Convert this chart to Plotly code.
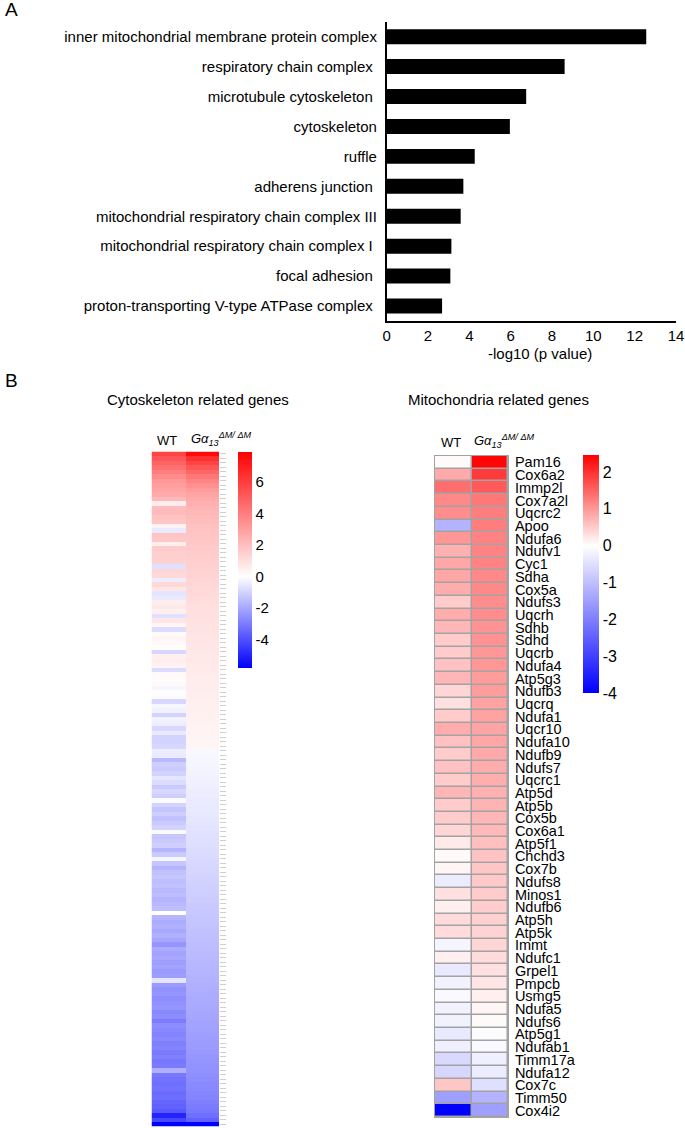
import plotly.graph_objects as go

W, H = 685, 1128


def fx(px):
    return px / W


def fy(py):
    return 1 - py / H


FONT = "Liberation Sans, Arial, Helvetica, sans-serif"

# ---------------- Panel A data ----------------
go_terms = [
    "inner mitochondrial membrane protein complex",
    "respiratory chain complex\u00a0",
    "microtubule cytoskeleton\u00a0",
    "cytoskeleton",
    "ruffle",
    "adherens junction\u00a0",
    "mitochondrial respiratory chain complex III",
    "mitochondrial respiratory chain complex I\u00a0",
    "focal adhesion\u00a0",
    "proton-transporting V-type ATPase complex\u00a0",
]
go_values = [12.56, 8.61, 6.75, 5.96, 4.26, 3.71, 3.58, 3.13, 3.08, 2.68]
bar_ticks = [0, 2, 4, 6, 8, 10, 12, 14]

# ---------------- Panel B left: cytoskeleton genes (rows top->bottom) ----------------
cyto_wt = [
    5.8, 5.2, 4.8, 4.4, 4.0, 3.6, 3.2, 3.0, 2.8, 2.6,
    2.2, 0.6, 2.0, 2.1, 1.9, 1.8, 0.4, -0.5, 1.8, 1.7,
    0.5, 1.6, 1.5, 1.5, 1.4, -0.7, 1.3, 1.2, -0.4, 1.2,
    0.8, -0.6, -0.5, 0.6, 0.7, 0.5, -0.7, 0.8, 0.3, -0.8,
    0.2, 0.3, 0.2, 0.1, -0.9, 0.5, 0.6, 0.4, -0.8, 0.2,
    0.1, 0.2, -0.2, 0.1, -0.1, -0.9, -0.2, -0.3, -1.0, -0.3,
    -0.4, -0.9, -0.5, -1.0, -1.0, -0.9, -0.4, -0.5, -1.6, -1.1,
    -1.2, -1.0, -0.6, -0.8, -1.2, -0.9, -1.1, -0.1, -1.0, -1.3,
    -1.1, -1.4, -1.2, -1.0, -0.1, -1.3, -1.2, -1.1, -1.7, -1.2,
    -0.2, -1.3, -1.7, -1.4, -1.3, -1.5, -1.4, -1.6, -1.5, -1.7,
    -1.6, -1.5, 0.0, -1.7, -1.9, -1.8, -2.0, -1.8, -2.0, -2.4,
    -1.9, -2.1, -2.0, -2.2, -2.1, -2.3, -2.2, -0.6, -2.3, -2.5,
    -2.4, -2.6, -2.5, -2.4, -2.7, -2.6, -3.0, -2.6, -2.7, -2.8,
    -2.7, -2.9, -2.8, -3.0, -2.9, -3.1, -3.0, -1.8, -3.1, -3.2,
    -3.3, -3.2, -3.4, -3.3, -3.5, -3.6, -3.8, -5.0, -4.2, -5.8,
]
cyto_ko = [
    7.6, 6.4, 5.8, 5.2, 4.7, 4.2, 3.8, 3.4, 3.1, 2.8,
    2.6, 2.45, 2.3, 2.2, 2.1, 2.0, 1.9, 1.85, 1.8, 1.75,
    1.7, 1.65, 1.6, 1.55, 1.5, 1.45, 1.4, 1.35, 1.3, 1.25,
    1.2, 1.15, 1.1, 1.05, 1.0, 0.98, 0.95, 0.92, 0.9, 0.88,
    0.85, 0.82, 0.8, 0.78, 0.75, 0.72, 0.7, 0.68, 0.65, 0.62,
    0.6, 0.58, 0.56, 0.54, 0.52, 0.5, 0.48, 0.46, 0.44, 0.42,
    0.4, 0.38, 0.36, 0.34, 0.32, 0.3,
    -0.15, -0.18, -0.2, -0.22, -0.25, -0.28, -0.3, -0.33, -0.36, -0.4, -0.42, -0.45, -0.48, -0.5,
    -0.53, -0.56, -0.6, -0.63, -0.66, -0.7, -0.73, -0.76, -0.8, -0.83,
    -0.86, -0.9, -0.93, -0.96, -1.0, -1.03, -1.06, -1.1, -1.13, -1.16,
    -1.2, -1.23, -1.26, -1.3, -1.33, -1.36, -1.4, -1.43, -1.46, -1.5,
    -1.53, -1.56, -1.6, -1.63, -1.66, -1.7, -1.73, -1.76, -1.8, -1.83,
    -1.86, -1.9, -1.93, -1.96, -2.0, -2.03, -2.06, -2.1, -2.14, -2.18,
    -2.22, -2.26, -2.3, -2.34, -2.38, -2.42, -2.46, -2.5, -2.55, -2.6,
    -2.65, -2.7, -2.75, -2.8, -2.9, -3.0, -3.1, -3.3, -3.6, -5.8,
]
cyto_rows = list(range(len(cyto_wt)))
cyto_ticks = [-4, -2, 0, 2, 4, 6]
cyto_tick_text = ["-4", "-2", "0", "2", "4", "6"]
cyto_zmin, cyto_zmax = -5.8, 7.9

# ---------------- Panel B right: mitochondria genes ----------------
mito_genes = [
    "Pam16", "Cox6a2", "Immp2l", "Cox7a2l", "Uqcrc2", "Apoo", "Ndufa6", "Ndufv1",
    "Cyc1", "Sdha", "Cox5a", "Ndufs3", "Uqcrh", "Sdhb", "Sdhd", "Uqcrb", "Ndufa4",
    "Atp5g3", "Ndufb3", "Uqcrq", "Ndufa1", "Uqcr10", "Ndufa10", "Ndufb9", "Ndufs7",
    "Uqcrc1", "Atp5d", "Atp5b", "Cox5b", "Cox6a1", "Atp5f1", "Chchd3", "Cox7b",
    "Ndufs8", "Minos1", "Ndufb6", "Atp5h", "Atp5k", "Immt", "Ndufc1", "Grpel1",
    "Pmpcb", "Usmg5", "Ndufa5", "Ndufs6", "Atp5g1", "Ndufab1", "Timm17a",
    "Ndufa12", "Cox7c", "Timm50", "Cox4i2",
]
mito_wt = [
    0.05, 0.82, 1.4, 1.15, 1.1, -1.2, 1.0, 0.75, 0.85, 0.85,
    0.8, 0.5, 0.8, 0.7, 0.5, 0.5, 0.6, 0.7, 0.4, 0.3,
    0.5, 0.8, 0.6, 0.5, 0.6, 0.5, 0.7, 0.5, 0.5, 0.4,
    0.2, 0.05, 0.1, -0.3, 0.3, 0.15, 0.35, 0.35, -0.15, 0.15,
    -0.35, -0.2, -0.1, -0.2, -0.2, -0.35, -0.25, -0.6, -0.65, 0.55,
    -1.5, -4.0,
]
mito_ko = [
    2.4, 1.9, 1.6, 1.3, 1.25, 1.25, 1.2, 1.2, 1.2, 1.15,
    1.15, 1.1, 1.1, 1.05, 1.05, 1.0, 1.0, 0.95, 0.95, 0.9,
    0.9, 0.88, 0.85, 0.82, 0.8, 0.78, 0.75, 0.72, 0.7, 0.68,
    0.62, 0.58, 0.55, 0.52, 0.5, 0.48, 0.45, 0.42, 0.4, 0.35,
    0.3, 0.25, 0.15, 0.1, 0.05, -0.05, -0.1, -0.25, -0.3, -0.5,
    -1.2, -1.5,
]
mito_ticks = [-4, -3, -2, -1, 0, 1, 2]
mito_tick_text = ["-4", "-3", "-2", "-1", "0", "1", "2"]
mito_zmin, mito_zmax = -4.0, 2.46


def bwr(zmin, zmax):
    mid = (0 - zmin) / (zmax - zmin)
    return [[0.0, "#0000ff"], [mid, "#ffffff"], [1.0, "#ff0000"]]


fig = go.Figure()

# Panel A bars
fig.add_trace(go.Bar(
    x=go_values, y=go_terms, orientation="h", width=0.5,
    marker=dict(color="black", line=dict(width=0)),
    xaxis="x", yaxis="y", showlegend=False, hoverinfo="x+y",
))

# Panel B left heatmap
fig.add_trace(go.Heatmap(
    z=[[w, k] for w, k in zip(cyto_wt, cyto_ko)],
    x=[0, 1], y=cyto_rows,
    colorscale=bwr(cyto_zmin, cyto_zmax), zmin=cyto_zmin, zmax=cyto_zmax,
    xaxis="x2", yaxis="y2",
    colorbar=dict(
        x=fx(238), xanchor="left", y=fy(452), yanchor="top",
        len=216, lenmode="pixels", thickness=14, thicknessmode="pixels",
        xpad=0, ypad=0, outlinewidth=0, ticks="",
        tickmode="array", tickvals=cyto_ticks, ticktext=cyto_tick_text,
        tickfont=dict(size=15, family=FONT, color="black"),
    ),
))

# Panel B right heatmap
fig.add_trace(go.Heatmap(
    z=[[w, k] for w, k in zip(mito_wt, mito_ko)],
    x=[0, 1], y=mito_genes, xgap=1.5, ygap=1.5,
    colorscale=bwr(mito_zmin, mito_zmax), zmin=mito_zmin, zmax=mito_zmax,
    xaxis="x3", yaxis="y3",
    colorbar=dict(
        x=fx(583), xanchor="left", y=fy(455), yanchor="top",
        len=238, lenmode="pixels", thickness=16, thicknessmode="pixels",
        xpad=0, ypad=0, outlinewidth=0, ticks="",
        tickmode="array", tickvals=mito_ticks, ticktext=mito_tick_text,
        tickfont=dict(size=16, family=FONT, color="black"),
    ),
))

hidden = dict(showgrid=False, zeroline=False, showline=False, ticks="",
              showticklabels=False, automargin=False)

fig.update_layout(
    width=W, height=H,
    margin=dict(l=0, r=0, t=0, b=0, pad=0, autoexpand=False),
    paper_bgcolor="white", plot_bgcolor="rgba(0,0,0,0)",
    font=dict(family=FONT, color="black"),
    showlegend=False,
    xaxis=dict(
        domain=[fx(386.7), fx(676)], range=[0, 14], anchor="y", automargin=False,
        showline=True, linecolor="black", linewidth=1.5,
        ticks="", tickmode="array", tickvals=bar_ticks,
        tickfont=dict(size=15, family=FONT, color="black"),
        showgrid=False, zeroline=False,
    ),
    yaxis=dict(
        domain=[fy(321), fy(21.7)], anchor="x", automargin=False,
        autorange="reversed", type="category",
        showline=True, linecolor="black", linewidth=1.5,
        ticks="outside", ticklen=5, tickcolor="rgba(0,0,0,0)",
        tickfont=dict(size=15, family=FONT, color="black"),
        showgrid=False, zeroline=False,
    ),
    xaxis2=dict(domain=[fx(151.5), fx(219)], range=[-0.5, 1.5], anchor="y2", **hidden),
    yaxis2=dict(
        domain=[fy(1126.5), fy(451.5)], anchor="x2", automargin=False,
        range=[len(cyto_rows) - 0.5, -0.5], side="right",
        tickmode="array", tickvals=cyto_rows, ticks="outside", ticklen=6,
        tickcolor="#cfcfcf", tickwidth=1, showticklabels=False,
        showgrid=False, zeroline=False, showline=False,
    ),
    xaxis3=dict(domain=[fx(435), fx(508)], range=[-0.5, 1.5], anchor="y3", **hidden),
    yaxis3=dict(
        domain=[fy(1117), fy(456)], anchor="x3", automargin=False,
        type="category", autorange="reversed", side="right",
        tickmode="array", tickvals=mito_genes, ticktext=mito_genes,
        ticks="outside", ticklen=3, tickcolor="rgba(0,0,0,0)",
        tickfont=dict(size=14.5, family=FONT, color="black"),
        showgrid=False, zeroline=False, showline=False,
    ),
)

# grey cell borders behind the mitochondria heatmap
fig.add_shape(
    type="rect", xref="paper", yref="paper", layer="below",
    x0=fx(434), x1=fx(509), y0=fy(1118), y1=fy(455),
    fillcolor="#a3a3a3", line=dict(width=0),
)

G_LABEL = "<i>G\u03b1<sub>13</sub><sup>\u0394M/ \u0394M</sup></i>"


def ann(text, px, py, size, xanchor="center"):
    fig.add_annotation(
        text=text, x=fx(px), y=fy(py), xref="paper", yref="paper",
        xanchor=xanchor, yanchor="middle", showarrow=False,
        font=dict(size=size, family=FONT, color="black"),
    )


ann("A", 3, 10, 19, "left")
ann("B", 3, 381, 19, "left")
ann("-log10 (p value)", 540, 353, 15)
ann("Cytoskeleton related genes", 198, 399, 15)
ann("Mitochondria related genes", 498, 399, 15)
ann("WT", 167, 440, 13)
ann(G_LABEL, 189, 439, 13, "left")
ann("WT", 451, 442, 13)
ann(G_LABEL, 472, 441, 13, "left")

fig.write_html(
    "out.html",
    config={"displayModeBar": False},
    post_script="document.body.style.margin='0px';",
)
